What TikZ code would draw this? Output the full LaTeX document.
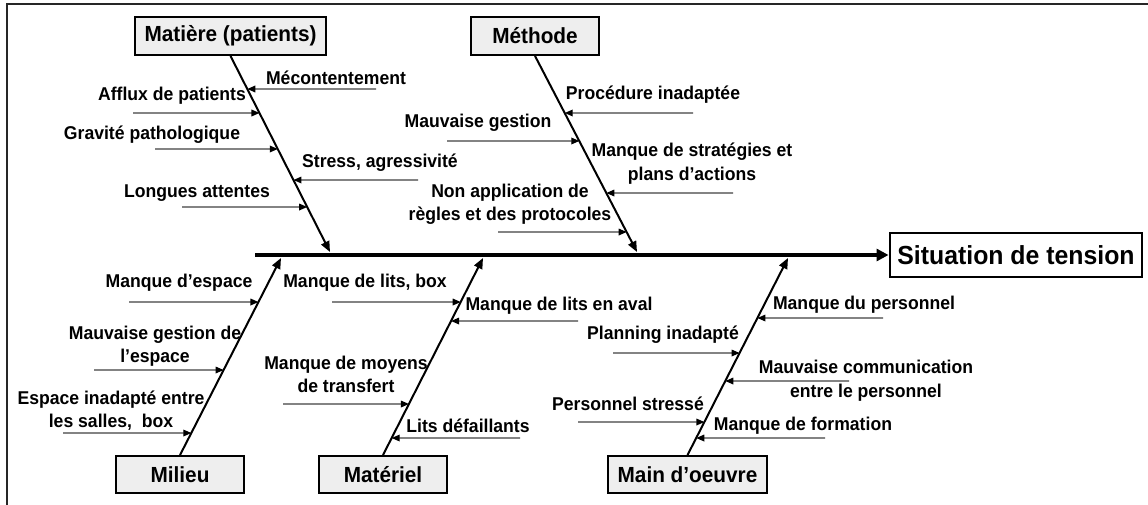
\documentclass[tikz,border=0pt]{standalone}
\usepackage{fontspec}
\setmainfont[FakeStretch=0.95]{Liberation Sans}
\usetikzlibrary{arrows.meta}
\tikzset{
  catbox/.style={draw, line width=1.4pt, fill=gray!13, inner sep=0pt,
    font=\bfseries\fontsize{16.4}{19}\selectfont},
  topbox/.style={draw, line width=2.2pt, fill=white, inner sep=0pt,
    font=\bfseries\fontsize{19.6}{23}\selectfont},
  lbl/.style={inner sep=0pt, align=center, font=\bfseries\fontsize{13.9}{17.6}\selectfont},
  bone/.style={line width=1.5pt, -{Triangle[length=8pt,width=6.5pt]}},
  spine/.style={line width=3pt, -{Triangle[length=9pt,width=9pt]}},
  subarrow/.style={draw=black!75, line width=0.9pt, -{Triangle[length=6pt,width=5pt,color=black]}},
  frame/.style={line width=2pt, draw=black!85}
}
\newcommand\cause[5]{%
  \coordinate (#1s) at (#5,#4);
  \coordinate (#1e) at (intersection of #2--#3 and 0,#4--1148,#4);
  \draw[subarrow] (#1s) -- (#1e);}
\begin{document}
\begin{tikzpicture}[x=0.75pt,y=-0.75pt]
\useasboundingbox (0,0) rectangle (1148,505);
\coordinate (fa) at (7,505);
\coordinate (fb) at (7,4);
\coordinate (fc) at (1148,4);
\draw[frame] (fa) -- (fb) -- (fc);

% category boxes
\node[catbox, minimum width=143.25pt, minimum height=28.5pt] (matiere) at (230.5,36) {Matière (patients)};
\node[catbox, minimum width=96pt, minimum height=28.5pt] (methode) at (535,36) {Méthode};
\node[catbox, minimum width=96pt, minimum height=27.75pt] (milieu) at (180,474.5) {Milieu};
\node[catbox, minimum width=96pt, minimum height=27.75pt] (materiel) at (383,474.5) {Matériel};
\node[catbox, minimum width=119.25pt, minimum height=27.75pt] (main) at (687.5,474.5) {Main d’oeuvre};
\node[topbox, minimum width=189pt, minimum height=33pt] (sit) at (1016,255) {Situation de tension};

% spine
\coordinate (sp) at (255,255);
\draw[spine] (sp) -- (sit.west);

% bones
\coordinate (tA) at (330,252);
\coordinate (tB) at (637,252);
\coordinate (tC) at (281,258);
\coordinate (tD) at (483,258);
\coordinate (tE) at (788,258);
\draw[bone] (matiere.south) -- (tA);
\draw[bone] (methode.south) -- (tB);
\draw[bone] (milieu.north) -- (tC);
\draw[bone] (materiel.north) -- (tD);
\draw[bone] (main.north) -- (tE);

% Matiere causes
\node[lbl] (l1) at (336,78) {Mécontentement};
\cause{c1}{matiere.south}{tA}{89}{376}
\node[lbl] (l2) at (172,96) {Afflux de patients};
\cause{c2}{matiere.south}{tA}{113}{133}
\node[lbl] (l3) at (152,135) {Gravité pathologique};
\cause{c3}{matiere.south}{tA}{149}{155}
\node[lbl] (l4) at (380,163) {Stress, agressivité};
\cause{c4}{matiere.south}{tA}{180}{418}
\node[lbl] (l5) at (197,193) {Longues attentes};
\cause{c5}{matiere.south}{tA}{207}{182}

% Methode causes
\node[lbl] (l6) at (653,95) {Procédure inadaptée};
\cause{c6}{methode.south}{tB}{113}{693}
\node[lbl] (l7) at (478,123) {Mauvaise gestion};
\cause{c7}{methode.south}{tB}{141}{447}
\node[lbl] (l8) at (692,163.5) {Manque de stratégies et\\plans d’actions};
\cause{c8}{methode.south}{tB}{193}{733}
\node[lbl] (l9) at (510,204) {Non application de\\règles et des protocoles};
\cause{c9}{methode.south}{tB}{232}{498}

% Milieu causes
\node[lbl] (l10) at (179,283) {Manque d’espace};
\cause{c10}{milieu.north}{tC}{302}{129}
\node[lbl] (l11) at (155,346) {Mauvaise gestion de\\l’espace};
\cause{c11}{milieu.north}{tC}{370}{94}
\node[lbl] (l12) at (111,410.5) {Espace inadapté entre\\les salles,~ box};
\cause{c12}{milieu.north}{tC}{433}{63}

% Materiel causes
\node[lbl] (l13) at (365,283) {Manque de lits, box};
\cause{c13}{materiel.north}{tD}{302}{332}
\node[lbl] (l14) at (559,306) {Manque de lits en aval};
\cause{c14}{materiel.north}{tD}{321}{578}
\node[lbl] (l15) at (346,374.5) {Manque de moyens\\de transfert};
\cause{c15}{materiel.north}{tD}{404}{283}
\node[lbl] (l16) at (468,426) {Lits défaillants};
\cause{c16}{materiel.north}{tD}{438}{520}

% Main d'oeuvre causes
\node[lbl] (l17) at (864,305) {Manque du personnel};
\cause{c17}{main.north}{tE}{318}{883}
\node[lbl] (l18) at (663,335) {Planning inadapté};
\cause{c18}{main.north}{tE}{353}{613}
\node[lbl] (l19) at (866,380.5) {Mauvaise communication\\entre le personnel};
\cause{c19}{main.north}{tE}{381}{849}
\node[lbl] (l20) at (628,404) {Personnel stressé};
\cause{c20}{main.north}{tE}{422}{578}
\node[lbl] (l21) at (803,426) {Manque de formation};
\cause{c21}{main.north}{tE}{438}{825}
\end{tikzpicture}
\end{document}
